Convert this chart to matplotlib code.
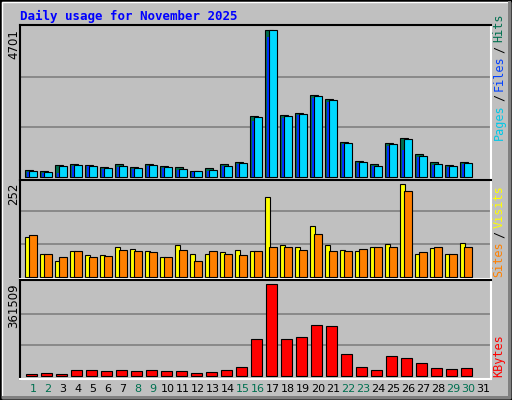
import matplotlib
matplotlib.use("Agg")
import matplotlib.pyplot as plt
from matplotlib.patches import Rectangle
import numpy as np

days = list(range(1, 32))
weekend = [1, 2, 8, 9, 15, 16, 22, 23, 29, 30]
hits = [213,181,372,404,372,309,404,309,404,340,309,181,277,404,468,1936,4701,1968,2032,2607,2479,1107,500,404,1075,1234,723,468,372,468,0]
files = [181,149,340,372,340,277,340,277,372,309,245,181,213,340,436,1904,4670,1936,2000,2575,2447,1075,468,340,1043,1202,660,404,340,436,0]
pages = [149,117,117,340,340,245,309,245,340,277,213,149,181,340,404,1777,4458,1872,1968,2511,2383,1043,436,340,979,851,628,372,309,404,0]
visits = [107,63,44,69,58,58,80,74,69,53,85,61,61,66,72,69,216,85,80,137,85,72,69,80,88,252,63,77,63,91,0]
sites = [112,61,53,69,53,55,72,69,66,53,72,44,69,61,58,69,82,80,72,115,69,69,74,80,82,232,66,82,61,82,0]
kbytes = [5300,9200,5300,21100,21100,17100,21100,17100,21100,17100,17100,9200,13200,21100,33000,143800,361509,143800,151700,199200,195300,84400,33000,21100,76500,68600,48800,29000,25100,29000,0]

BG = "#c0c0c0"
fig = plt.figure(figsize=(5.12, 4.0), dpi=100, facecolor=BG)
x = np.array(days, dtype=float)
px = 1 / 15.0

def panel(top, h, S, base_off, top_frac):
    ax = fig.add_axes([20/512, 1 - (top + h)/400, 471/512, h/400])
    ax.set_facecolor(BG)
    ax.set_xlim(0.13, 31.53)
    ax.set_ylim(-base_off * S, top_frac * S)
    for g in (S/3, 2*S/3):
        ax.axhline(g, color="#808080", lw=1.2, zorder=0)
    ax.set_xticks([]); ax.set_yticks([])
    ax.spines["left"].set_color("black"); ax.spines["top"].set_color("black")
    ax.spines["right"].set_color("white"); ax.spines["bottom"].set_color("white")
    for s in ax.spines.values():
        s.set_linewidth(1.5)
    return ax

def bars(ax, vals, off, w, color, **kw):
    v = np.array(vals, dtype=float)
    m = v > 0
    ax.bar(x[m] + off*px, v[m], width=w*px, color=color, align="edge", **kw)

ek = dict(edgecolor="black", linewidth=0.8)
S1 = 4701 / 0.98
ax1 = panel(25, 155, S1, 0.022, 1.01)
bars(ax1, hits, -8, 8, "#006f4f", zorder=2, **ek)
bars(ax1, files, -4, 8, "#00d8ff", zorder=3, **ek)
bars(ax1, pages, -6, 2, "#0030ff", edgecolor="none", zorder=4)

S2 = 266
ax2 = panel(180, 99, S2, 0.023, 0.987)
bars(ax2, visits, -8, 5, "#ffff00", zorder=2, **ek)
bars(ax2, sites, -4, 8, "#ff8000", zorder=3, **ek)

S3 = 368240
ax3 = panel(280, 99, S3, 0.035, 1.029)
bars(ax3, kbytes, -7, 11, "#ff0000", zorder=2, **ek)

fig.text(20/512, 1 - 16/400, "Daily usage for November 2025", color="#0000ff",
         family="DejaVu Sans Mono", weight="bold", fontsize=9, va="center", ha="left")

for val, ytop in (("4701", 29), ("252", 183), ("361509", 283)):
    fig.text(14/512, 1 - ytop/400, val, rotation=90, fontsize=8.5, va="top", ha="center", color="black")

renderer = fig.canvas.get_renderer()
def rlabel(parts, ybot):
    y = ybot
    for txt, col in parts:
        t = fig.text(499/512, 1 - y/400, txt, rotation=90, fontsize=8.5, family="DejaVu Sans Mono",
                     color=col, va="bottom", ha="center")
        bb = t.get_window_extent(renderer)
        y -= bb.height + 3
rlabel([("Pages", "#00c8e8"), ("/", "black"), ("Files", "#0040ff"), ("/", "black"), ("Hits", "#006f4f")], 140)
rlabel([("Sites", "#ff8000"), ("/", "black"), ("Visits", "#ffff00")], 277)
rlabel([("KBytes", "#ff0000")], 377)

for d in days:
    fig.text((33 + 15*(d-1))/512, 1 - 389/400, str(d), fontsize=8, ha="center", va="center",
             color="#007050" if d in weekend else "black")

fig.patches.append(Rectangle((0, 0), 1, 1, transform=fig.transFigure, fill=False, edgecolor="black", lw=2))
fig.patches.append(Rectangle((2/512, 2/400), 508/512, 396/400, transform=fig.transFigure, fill=False, edgecolor="white", lw=1))
fig.patches.append(Rectangle((2/512, 1/400), 509/512, 3/400, transform=fig.transFigure, color="#808080", lw=0))
fig.patches.append(Rectangle((508/512, 1/400), 3/512, 398/400, transform=fig.transFigure, color="#808080", lw=0))

fig.savefig("out.png", dpi=100, facecolor=BG)
